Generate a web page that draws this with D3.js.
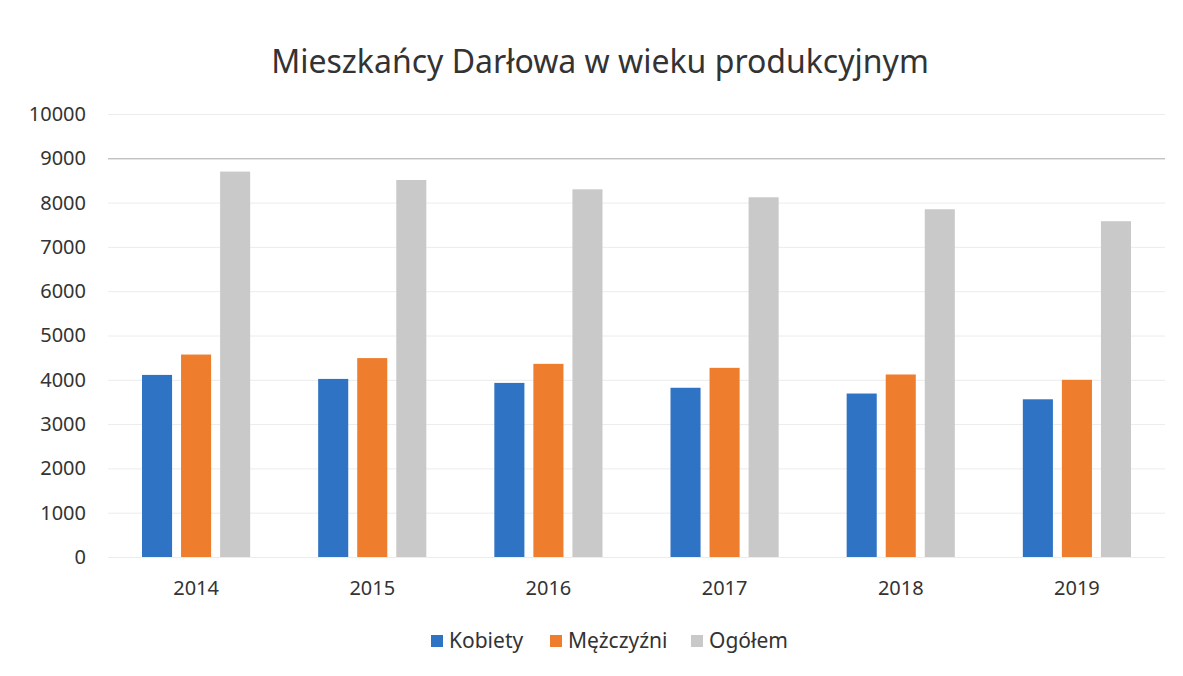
<!DOCTYPE html>
<html>
<head>
<meta charset="utf-8">
<script src="https://cdn.jsdelivr.net/npm/d3@7"></script>
<style>
  body { margin: 0; background: #fff; }
  svg { font-family: 'Noto Sans', 'Open Sans', sans-serif; }
</style>
</head>
<body>
<svg width="1183" height="676"></svg>
<script>
const years = ['2014', '2015', '2016', '2017', '2018', '2019']
const seriesNames = ['Kobiety', 'Mężczyźni', 'Ogółem']
const kobiety = [4110, 4020, 3930, 3820, 3690, 3560]
const mezczyzni = [4570, 4490, 4360, 4270, 4120, 4000]
const ogolem = [8700, 8510, 8300, 8120, 7850, 7580]
const yTicks = [0, 1000, 2000, 3000, 4000, 5000, 6000, 7000, 8000, 9000, 10000]
const colors = ['#2e73c4', '#ee7d2e', '#c9c9c9']

const width = 1183
const height = 676
const margin = { top: 114, right: 18, bottom: 119, left: 108 }
const font = "'Noto Sans', 'Open Sans', sans-serif"

const data = years.map((y, i) => ({ year: y, values: [kobiety[i], mezczyzni[i], ogolem[i]] }))

const svg = d3.select('svg')

// scales
const x0 = d3.scaleBand()
  .domain(years)
  .range([margin.left, width - margin.right])
  .paddingInner(0.386)
  .paddingOuter(0.193)

const x1 = d3.scaleBand()
  .domain(seriesNames)
  .range([0, x0.bandwidth()])
  .paddingInner(0.23)

const y = d3.scaleLinear()
  .domain([0, 10000])
  .range([height - margin.bottom, margin.top])

// gridlines
const grid = svg.append('g')
  .attr('transform', `translate(${margin.left},0)`)
  .call(d3.axisLeft(y).tickValues(yTicks).tickSize(-(width - margin.left - margin.right)).tickFormat(''))
grid.select('.domain').remove()
grid.selectAll('line')
  .attr('stroke', d => d === 9000 ? '#a8a8a8' : '#ececec')

// y labels
const yAxis = svg.append('g')
  .attr('transform', `translate(${margin.left - 22},0)`)
  .call(d3.axisLeft(y).tickValues(yTicks).tickSize(0).tickPadding(0).tickFormat(d3.format('d')))
yAxis.attr('font-family', font)
yAxis.select('.domain').remove()
yAxis.selectAll('text')
  .attr('font-size', 20)
  .attr('fill', '#333')

// bars
const groups = svg.append('g').selectAll('g')
  .data(data)
  .enter().append('g')
  .attr('transform', d => `translate(${x0(d.year)},0)`)

groups.selectAll('rect')
  .data(d => d.values.map((v, i) => ({ name: seriesNames[i], value: v, i })))
  .enter().append('rect')
  .attr('x', d => x1(d.name))
  .attr('width', x1.bandwidth())
  .attr('y', d => y(d.value))
  .attr('height', d => y(0) - y(d.value))
  .attr('fill', d => colors[d.i])

// x labels
const xAxis = svg.append('g')
  .attr('transform', `translate(0,${height - margin.bottom + 20})`)
  .call(d3.axisBottom(x0).tickSize(0).tickPadding(0))
xAxis.attr('font-family', font)
xAxis.select('.domain').remove()
xAxis.selectAll('text')
  .attr('font-size', 20)
  .attr('fill', '#333')
  .attr('dy', '0.9em')

// title
svg.append('text')
  .attr('x', 600)
  .attr('y', 73)
  .attr('text-anchor', 'middle')
  .attr('font-size', 32)
  .attr('fill', '#333')
  .text('Mieszkańcy Darłowa w wieku produkcyjnym')

// legend
const legendX = [431, 550, 691]
const legend = svg.append('g').selectAll('g')
  .data(seriesNames)
  .enter().append('g')
  .attr('transform', (d, i) => `translate(${legendX[i]},641)`)

legend.append('rect')
  .attr('x', 0)
  .attr('y', -6)
  .attr('width', 12)
  .attr('height', 12)
  .attr('fill', (d, i) => colors[i])

legend.append('text')
  .attr('x', 18)
  .attr('dy', '0.35em')
  .attr('font-size', 21)
  .attr('fill', '#333')
  .text(d => d)
</script>
</body>
</html>
